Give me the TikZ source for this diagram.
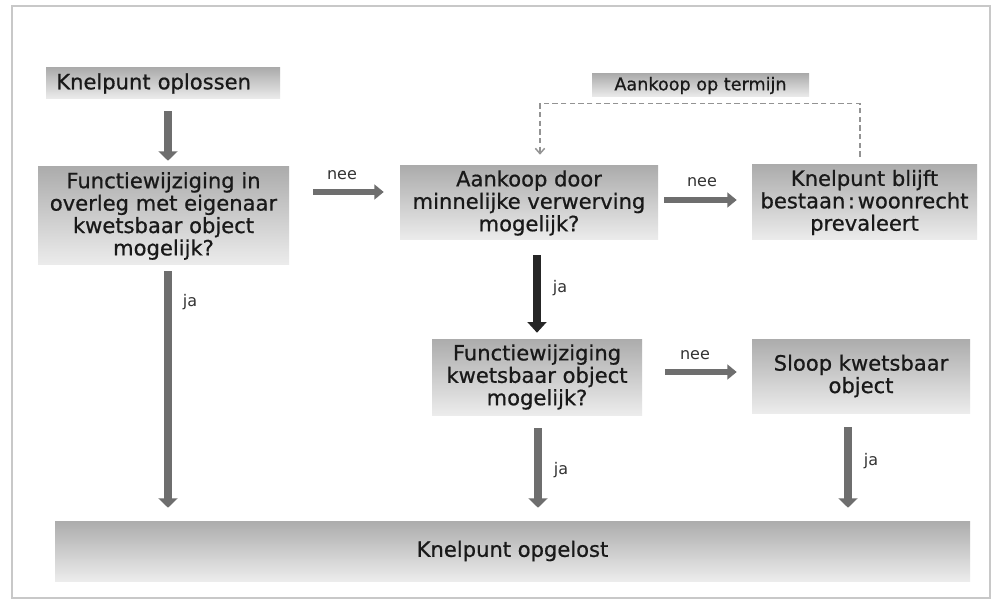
\documentclass[tikz,border=0pt]{standalone}
\usepackage{fontspec}
\setmainfont{DejaVu Sans}
\newfontfamily\boxfont{DejaVu Sans}[FakeBold=0.7]
\usetikzlibrary{arrows.meta,calc}
\definecolor{boxtop}{RGB}{172,172,172}
\definecolor{boxbot}{RGB}{236,236,236}
\definecolor{arrgray}{RGB}{110,110,110}
\definecolor{txt}{RGB}{25,25,25}
\definecolor{framec}{RGB}{200,200,200}
\tikzset{
  box/.style={rectangle, top color=boxtop, bottom color=boxbot, draw=none,
    text=txt, align=center, font=\boxfont\fontsize{15.8}{16.8}\selectfont, inner sep=0pt},
  sz/.style 2 args={minimum width=#1*0.75pt, minimum height=#2*0.75pt},
  grayarrow/.style={draw=arrgray, line width=6pt, -{Triangle[width=14pt,length=7pt]}},
  neearrow/.style={draw=arrgray, line width=5pt, -{Triangle[width=11pt,length=7pt]}},
  blackarrow/.style={draw=black!85, line width=6.5pt, -{Triangle[width=14pt,length=8pt]}},
  dashline/.style={draw=gray!85, line width=1.1pt, dash pattern=on 4pt off 2.5pt, -{Straight Barb[length=4pt,width=7pt]}},
  lbl/.style={text=black!80, font=\fontsize{12}{14}\selectfont, inner sep=0pt}
}
\begin{document}
\begin{tikzpicture}[x=0.75pt,y=-0.75pt]
\useasboundingbox (0,0) rectangle (993,599);
\fill[white] (0,0) rectangle (993,599);
\draw[framec, line width=1.2pt] (12,6) rectangle (990,598);

\node[box, sz={234}{31}, text width=160pt, align=left] (oplossen) at (163,83.5) {Knelpunt oplossen};
\node[box, sz={251}{98}] (f1) at (163.5,216) {Functiewijziging in\\overleg met eigenaar\\kwetsbaar object\\mogelijk?};
\node[box, sz={258}{74}] (aank) at (529,203) {Aankoop door\\minnelijke verwerving\\mogelijk?};
\node[box, sz={217}{23}, font=\boxfont\fontsize{13.2}{15}\selectfont] (term) at (700.5,85.5) {Aankoop op termijn};
\node[box, sz={225}{75}] (blijft) at (864.5,202.5) {Knelpunt blijft\\bestaan\kern2pt:\kern2pt woonrecht\\prevaleert};
\node[box, sz={210}{76}] (f2) at (537,377) {Functiewijziging\\kwetsbaar object\\mogelijk?};
\node[box, sz={218}{74}] (sloop) at (861,376) {Sloop kwetsbaar\\object};
\node[box, sz={915}{60}] (opgelost) at (512.5,551) {Knelpunt opgelost};

% arrows
\draw[grayarrow] ($(oplossen.south)+(5,12)$) -- ($(f1.north)+(4.5,-6)$);
\draw[grayarrow] ($(f1.south)+(4.5,6)$) -- ($(f1.south |- opgelost.north)+(4.5,-13)$);
\node[lbl] (ja1) at (190,302) {ja};

\draw[neearrow] ($(f1.east)+(24,-24)$) -- ($(aank.west)+(-16,-11)$);
\node[lbl] (nee1) at (342,175) {nee};

\draw[neearrow] ($(aank.east)+(6,-3)$) -- ($(blijft.west)+(-15,-2.5)$);
\node[lbl] (nee2) at (702,182) {nee};

\draw[dashline] ($(blijft.north)+(-4.5,-8)$) -- ++(0,-53) -| ($(aank.north)+(11,-11)$);

\draw[blackarrow] ($(aank.south)+(8,15)$) -- ($(f2.north)+(0,-6)$);
\node[lbl] (ja2) at (560,288) {ja};

\draw[neearrow] ($(f2.east)+(23,-5)$) -- ($(sloop.west)+(-15,-4)$);
\node[lbl] (nee3) at (695,355) {nee};

\draw[grayarrow] ($(f2.south)+(1,13)$) -- ($(f2.south |- opgelost.north)+(1,-13)$);
\node[lbl] (ja3) at (561,470) {ja};

\draw[grayarrow] ($(sloop.south)+(-13,14)$) -- ($(sloop.south |- opgelost.north)+(-13,-13)$);
\node[lbl] (ja4) at (871,461) {ja};
\end{tikzpicture}
\end{document}
